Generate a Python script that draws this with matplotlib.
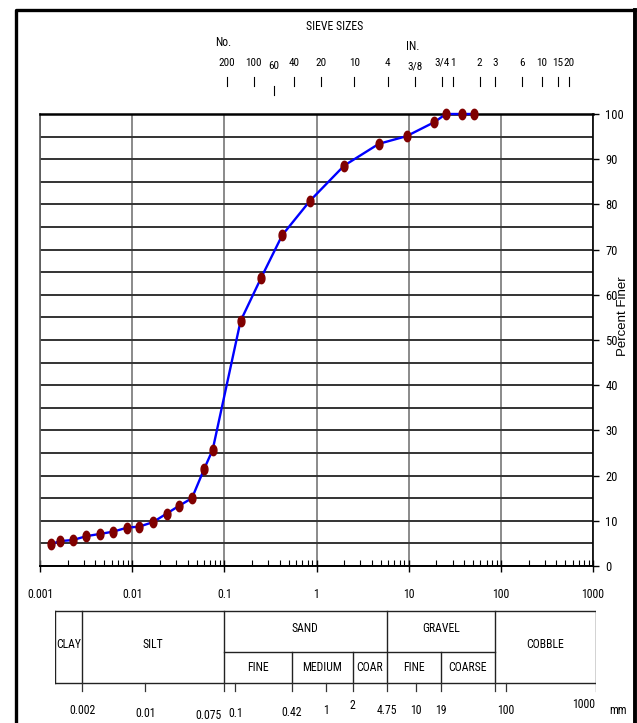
import numpy as np
import matplotlib
matplotlib.use("Agg")
import matplotlib.pyplot as plt
from matplotlib import font_manager as fm
from matplotlib.path import Path
from matplotlib.lines import Line2D
from matplotlib.ticker import FixedLocator, NullFormatter

# ---------------- data ----------------
grain_size_mm = [0.00132, 0.00163, 0.00228, 0.00318, 0.00448, 0.00624, 0.00885,
                 0.0119, 0.0168, 0.0237, 0.0322, 0.0445, 0.0605, 0.0747,
                 0.150, 0.250, 0.425, 0.85, 2.0, 4.75, 9.5, 19.0, 25.4, 38.1, 50.8]
percent_finer = [4.8, 5.5, 5.75, 6.6, 7.1, 7.6, 8.5, 8.7, 9.7, 11.6, 13.3, 15.0,
                 21.5, 25.7, 54.2, 63.7, 73.2, 80.8, 88.6, 93.4, 95.1, 98.2,
                 100, 100, 100]

x_ticks = [0.001, 0.01, 0.1, 1, 10, 100, 1000]
x_tick_labels = ['0.001', '0.01', '0.1', '1', '10', '100', '1000']
y_ticks = list(range(0, 101, 10))

sieve_mm = [0.075, 0.15, 0.25, 0.425, 0.85, 2.0, 4.75, 9.5, 19.0, 25.4,
            50.8, 76.2, 152.4, 254.0, 381.0, 508.0]
sieve_labels = ['200', '100', '60', '40', '20', '10', '4', '3/8', '3/4', '1',
                '2', '3', '6', '10', '15', '20']

class_bounds_mm = [0.001, 0.002, 0.075, 0.42, 2.0, 4.75, 19.0, 76.2, 1000]
scale_mm = [0.002, 0.01, 0.075, 0.1, 0.42, 1, 2, 4.75, 10, 19, 100, 1000]
scale_labels = ['0.002', '0.01', '0.075', '0.1', '0.42', '1', '2', '4.75',
                '10', '19', '100', '1000']

# ---------------- fonts ----------------
REG = 'Liberation Sans'
narrow_pick = None
pref = ['Liberation Sans Narrow', 'Arial Narrow', 'Roboto Condensed',
        'Open Sans Condensed', 'DejaVu Sans Condensed', 'Noto Sans Condensed']
entries = fm.fontManager.ttflist
for p in pref:
    for f in entries:
        if f.name == p and f.style == 'normal' and f.weight in (400, 'normal', 'regular'):
            narrow_pick = (f.name, f.stretch)
            break
    if narrow_pick:
        break
if narrow_pick is None:
    for f in entries:
        if (f.stretch in ('condensed', 'semi-condensed', 'extra-condensed')
                and f.style == 'normal' and f.weight in (400, 'normal', 'regular')
                and 'Mono' not in f.name and 'Serif' not in f.name):
            narrow_pick = (f.name, f.stretch)
            break

if narrow_pick is not None:
    plt.rcParams['font.family'] = [narrow_pick[0], 'DejaVu Sans']
    plt.rcParams['font.stretch'] = narrow_pick[1]
    S = 1.0
else:
    plt.rcParams['font.family'] = [REG, 'DejaVu Sans']
    S = 0.85   # shrink regular font to approximate the narrow lettering

W, H = 637, 723
fig = plt.figure(figsize=(W / 100, H / 100), dpi=100)


def px_axes(x0, x1, ytop, ybot):
    return fig.add_axes([x0 / W, (H - ybot) / H, (x1 - x0) / W, (ybot - ytop) / H])


# ---------------- main chart ----------------
ax = px_axes(40, 593, 114, 566)
ax.set_xscale('log')
ax.set_xlim(1e-3, 1e3)
ax.set_ylim(0, 100)

ax.xaxis.set_major_locator(FixedLocator(x_ticks))
ax.set_xticklabels(x_tick_labels)
ax.xaxis.set_minor_locator(matplotlib.ticker.LogLocator(base=10, subs=np.arange(2, 10)))
ax.xaxis.set_minor_formatter(NullFormatter())
ax.tick_params(axis='x', which='major', direction='inout', length=8, width=1,
               labelsize=8.5 * S, pad=12, colors='black')
ax.tick_params(axis='x', which='minor', direction='in', length=4, width=0.8)

ax.yaxis.tick_right()
ax.set_yticks(y_ticks)
ax.set_yticks(list(range(5, 100, 10)), minor=True)
ax.tick_params(axis='y', which='major', direction='out', length=4, width=1,
               labelsize=9 * S, pad=5)
ax.tick_params(axis='y', which='minor', length=0)

ax.grid(axis='y', which='both', color='#333333', lw=1.4)
ax.grid(axis='x', which='major', color='#777777', lw=1.2)
ax.set_axisbelow(True)
for side, c, lw in [('left', '#555555', 1.2), ('top', 'black', 1.8),
                    ('right', 'black', 1.2), ('bottom', 'black', 1.4)]:
    ax.spines[side].set_color(c)
    ax.spines[side].set_linewidth(lw)

# y-axis title, placed beside the right-hand tick labels
fig.text(623 / W, 1 - 316 / H, 'Percent Finer', family=REG, stretch='normal',
         fontsize=9.5, rotation=90, ha='center', va='center')

t = np.linspace(0, 2 * np.pi, 40)
ellipse = Path(np.column_stack([0.33 * np.cos(t), 0.5 * np.sin(t)]), closed=True)
ax.plot(grain_size_mm, percent_finer, color='#0000ff', lw=1.7, marker=ellipse,
        ms=7.5, mfc='#800000', mec='#800000', zorder=5, clip_on=False)

# ---------------- sieve sizes (top) ----------------
st = px_axes(59.5, 595.3, 10, 100)
st.set_xscale('log')
st.set_xlim(1e-3, 1e3)
st.set_ylim(100, 10)
st.axis('off')
for i, (mm, lab) in enumerate(zip(sieve_mm, sieve_labels)):
    y0 = 86 if i == 2 else 77
    st.plot([mm, mm], [y0, y0 + 9], color='black', lw=0.8)
    dy = 3 if i == 2 else (4 if i == 7 else 0)
    st.text(mm, 63 + dy, lab, ha='center', va='center', fontsize=8 * S)
st.text(sieve_mm[0] * 0.92, 42, 'No.', ha='center', va='center', fontsize=8.5 * S)
st.text(sieve_mm[7] * 0.96, 47, 'IN.', ha='center', va='center', fontsize=8.5 * S)
st.text(1.22, 27, 'SIEVE SIZES', ha='center', va='center', fontsize=8.5 * S)

# ---------------- soil classification table ----------------
tb = px_axes(55, 596, 600, 723)
tb.set_xscale('log')
tb.set_xlim(1e-3, 1e3)
tb.set_ylim(723, 600)
tb.axis('off')
top_y, mid_y, bot_y = 611, 652, 683
lc = '#222222'
cb = class_bounds_mm
tb.plot([cb[0], cb[-1]], [top_y, top_y], color=lc, lw=1)
tb.plot([cb[0], cb[-1]], [bot_y, bot_y], color=lc, lw=1)
tb.plot([cb[2], cb[7]], [mid_y, mid_y], color=lc, lw=1)
for b in [cb[0], cb[1], cb[2], cb[5], cb[7], cb[8]]:
    tb.plot([b, b], [top_y, bot_y], color=lc, lw=1)
for b in [cb[3], cb[4], cb[6]]:
    tb.plot([b, b], [mid_y, bot_y], color=lc, lw=1)


def gmid(a, b):
    return np.sqrt(a * b)


full_y = (top_y + bot_y) / 2
up_y = (top_y + mid_y) / 2
lo_y = (mid_y + bot_y) / 2
fs = 8.5 * S
tb.text(gmid(cb[0], cb[1]), full_y - 2, 'CLAY', ha='center', va='center', fontsize=fs)
tb.text(gmid(cb[1], cb[2]), full_y - 2, 'SILT', ha='center', va='center', fontsize=fs)
tb.text(gmid(cb[2], cb[5]), up_y - 3, 'SAND', ha='center', va='center', fontsize=fs)
tb.text(gmid(cb[5], cb[7]), up_y - 3, 'GRAVEL', ha='center', va='center', fontsize=fs)
tb.text(gmid(cb[7], cb[8]), full_y - 2, 'COBBLE', ha='center', va='center', fontsize=fs)
tb.text(gmid(cb[2], cb[3]), lo_y, 'FINE', ha='center', va='center', fontsize=fs)
tb.text(gmid(cb[3], cb[4]), lo_y, 'MEDIUM', ha='center', va='center', fontsize=fs)
tb.text(gmid(cb[4], cb[5]), lo_y, 'COAR', ha='center', va='center', fontsize=fs)
tb.text(gmid(cb[5], cb[6]), lo_y, 'FINE', ha='center', va='center', fontsize=fs)
tb.text(gmid(cb[6], cb[7]), lo_y, 'COARSE', ha='center', va='center', fontsize=fs)

for mm in scale_mm + [cb[7]]:
    tb.plot([mm, mm], [bot_y, bot_y + 8], color='#333333', lw=0.9)
lab_y = {'0.01': 714, '0.075': 716, '0.1': 714, '0.42': 713, '2': 706, '1000': 705}
lab_ha = {'0.075': 'right', '1000': 'right'}
for mm, lab in zip(scale_mm, scale_labels):
    xx = mm * (0.93 if lab == '0.075' else 0.97 if lab == '1000' else 1.0)
    tb.text(xx, lab_y.get(lab, 711), lab, ha=lab_ha.get(lab, 'center'),
            va='center', fontsize=fs)
tb.text(1400, 711, 'mm', ha='left', va='center', fontsize=fs)

# ---------------- outer frame ----------------
def fl(xs, ys, lw):
    fig.add_artist(Line2D([x / W for x in xs], [1 - y / H for y in ys],
                          transform=fig.transFigure, color='black', lw=lw,
                          solid_capstyle='projecting'))


fl([15.5, 15.5, 635], [730, 10, 10], 2.4)
fl([635, 635], [10, 730], 2.8)

fig.savefig('out.png', dpi=100)
